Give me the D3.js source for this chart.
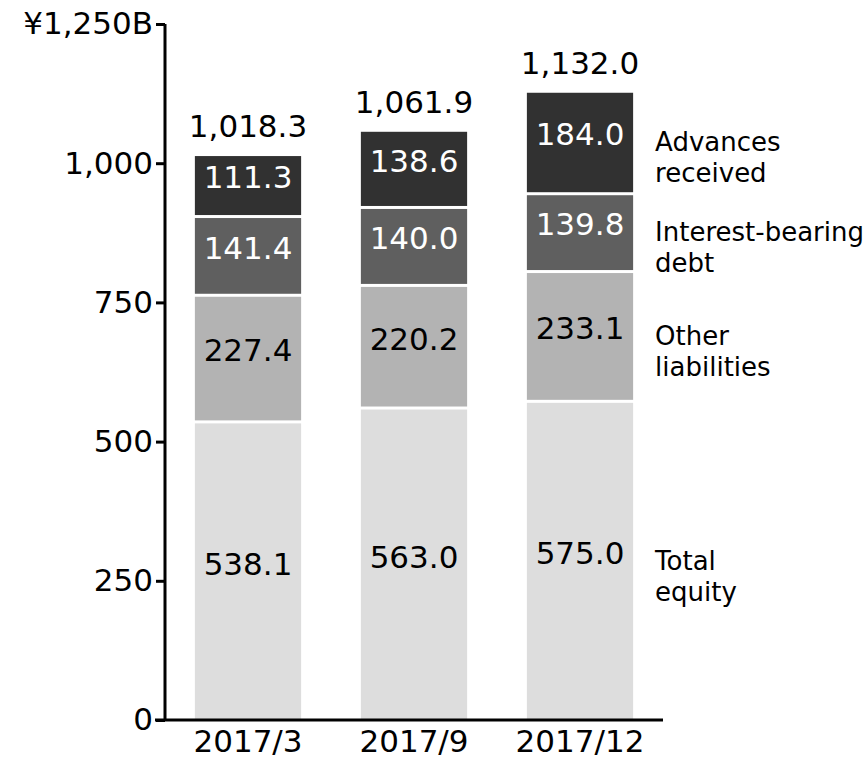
<!doctype html>
<html lang="en">
<head>
  <meta charset="utf-8">
  <title>Liabilities and equity</title>
  <style>
  body { margin: 0; background: #fff; }
  text { font-family: "DejaVu Sans", Verdana, sans-serif; }
  .axis path, .axis line { stroke: #000; stroke-width: 3; }
  </style>
</head>
<body>
  <div id="chart"></div>
  <script src="https://cdn.jsdelivr.net/npm/d3@7"></script>
  <script>
    (function(){

      // data, bottom to top
      var periods = ["2017/3", "2017/9", "2017/12"];
      var seriesNames = ["Total equity", "Other liabilities", "Interest-bearing debt", "Advances received"];
      var legendLines = [["Total", "equity"], ["Other", "liabilities"], ["Interest-bearing", "debt"], ["Advances", "received"]];
      var totalEquity = [538.1, 563.0, 575.0];
      var otherLiabilities = [227.4, 220.2, 233.1];
      var interestDebt = [141.4, 140.0, 139.8];
      var advances = [111.3, 138.6, 184.0];
      var totals = [1018.3, 1061.9, 1132.0];
      var yTicks = [0, 250, 500, 750, 1000, 1250];

      var fills = ["#dddddd", "#b3b3b3", "#5f5f5f", "#313131"];
      var textFills = ["#000", "#000", "#fff", "#fff"];

      var width = 867, height = 762;
      var gap = 3;

      var rows = periods.map(function(p, i) {
        return {
          period: p,
          s0: totalEquity[i], s1: otherLiabilities[i],
          s2: interestDebt[i], s3: advances[i],
          total: totals[i]
        };
      });

      var stack = d3.stack().keys(["s0", "s1", "s2", "s3"]);
      var layers = stack(rows);

      var x = d3.scaleBand().domain(periods).range([165, 663])
          .paddingInner(0.36).paddingOuter(0.18);
      var y = d3.scaleLinear().domain([0, 1250]).range([720, 24]);

      var svg = d3.select("#chart").append("svg")
          .attr("width", width).attr("height", height);

      var layer = svg.selectAll("g.layer").data(layers).enter()
          .append("g").attr("class", "layer")
          .attr("fill", function(d, i) { return fills[i]; });

      layer.selectAll("rect").data(function(d) { return d; }).enter()
          .append("rect")
          .attr("x", function(d) { return x(d.data.period); })
          .attr("width", x.bandwidth())
          .attr("y", function(d) { return y(d[1]) + gap; })
          .attr("height", function(d) { return y(d[0]) - y(d[1]) - gap; });

      layer.each(function(L, li) {
        d3.select(this).selectAll("text").data(L).enter()
          .append("text")
          .attr("x", function(d) { return x(d.data.period) + x.bandwidth() / 2; })
          .attr("y", function(d) { return (y(d[0]) + y(d[1]) + gap) / 2 - 8; })
          .attr("dy", "0.35em")
          .attr("text-anchor", "middle")
          .attr("font-size", 31)
          .attr("fill", textFills[li])
          .text(function(d) { return (d[1] - d[0]).toFixed(1); });
      });

      // totals above bars
      svg.selectAll("text.total").data(rows).enter()
        .append("text").attr("class", "total")
        .attr("x", function(d) { return x(d.period) + x.bandwidth() / 2; })
        .attr("y", function(d) { return y(d.total) - 16; })
        .attr("text-anchor", "middle")
        .attr("font-size", 31)
        .text(function(d) { return d3.format(",.1f")(d.total); });

      // series labels next to last bar
      var last = periods.length - 1;
      var lab = svg.selectAll("text.legend").data(layers).enter()
        .append("text").attr("class", "legend")
        .attr("font-size", 26)
        .attr("x", x(periods[last]) + x.bandwidth() + 22)
        .attr("y", function(d) { return (y(d[last][0]) + y(d[last][1])) / 2 + 10; });
      lab.each(function(d, i) {
        var t = d3.select(this);
        legendLines[i].forEach(function(line, j) {
          t.append("tspan")
            .attr("x", t.attr("x"))
            .attr("dy", j === 0 ? 0 : 31)
            .text(line);
        });
      });

      // axes
      var yAxis = d3.axisLeft(y).tickValues(yTicks).tickSize(9).tickPadding(3)
          .tickFormat(function(d) { return d === 1250 ? "¥1,250B" : d3.format(",")(d); });
      var gy = svg.append("g").attr("class", "axis")
          .attr("transform", "translate(165,0)").call(yAxis);
      gy.select(".domain").attr("d", "M0," + y(1250) + "V" + y(0));
      gy.selectAll("text").attr("font-size", 31).attr("fill", "#000");

      var xAxis = d3.axisBottom(x).tickSize(0).tickPadding(10);
      var gx = svg.append("g").attr("class", "axis")
          .attr("transform", "translate(0," + y(0) + ")").call(xAxis);
      gx.select(".domain").attr("d", "M155,0H663");
      gx.selectAll("text").attr("font-size", 31).attr("fill", "#000");

    })();
  </script>
</body>
</html>
